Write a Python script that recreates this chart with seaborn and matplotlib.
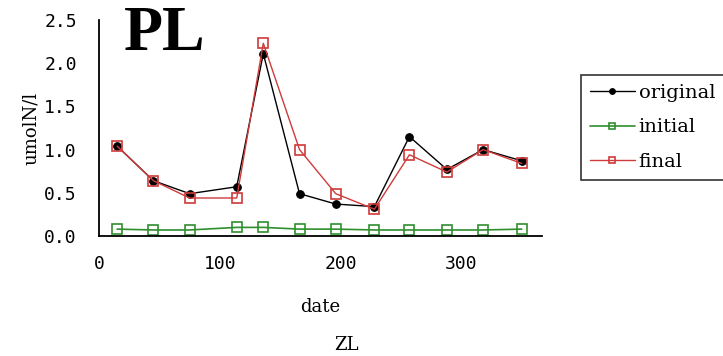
import numpy as np
import pandas as pd
import seaborn as sns
import matplotlib.pyplot as plt

# data
dates = [15, 45, 75, 114, 136, 166, 196, 228, 257, 288, 318, 350]
original = [1.04, 0.64, 0.49, 0.57, 2.11, 0.49, 0.37, 0.34, 1.15, 0.77, 1.00, 0.87]
initial = [0.08, 0.07, 0.07, 0.10, 0.10, 0.08, 0.08, 0.07, 0.07, 0.07, 0.07, 0.08]
final = [1.04, 0.64, 0.44, 0.44, 2.23, 1.00, 0.49, 0.31, 0.94, 0.74, 1.00, 0.84]

df = pd.DataFrame({"date": dates, "original": original, "initial": initial, "final": final})

sns.set_style("white")
plt.rcParams['font.family'] = ['DejaVu Serif']
plt.rcParams['text.color'] = "black"
plt.rcParams['axes.labelcolor'] = "black"

fig = plt.figure(figsize=(7.23, 3.56), dpi=100)
ax = fig.add_axes([0.137, 0.337, 0.613, 0.607])

sns.lineplot(data=df, x="date", y="original", ax=ax, color="black", lw=1,
             marker="o", markersize=5.5, markeredgecolor="black", label="original")
sns.lineplot(data=df, x="date", y="initial", ax=ax, color="#2f8f2f", lw=1.2,
             marker="s", markersize=6.5, markerfacecolor="none", markeredgecolor="#2f8f2f",
             markeredgewidth=1.2, label="initial")
sns.lineplot(data=df, x="date", y="final", ax=ax, color="#d03a3a", lw=1,
             marker="s", markersize=6.5, markerfacecolor="none", markeredgecolor="#d03a3a",
             markeredgewidth=1.2, label="final")

ax.set_xlim(0, 367)
ax.set_ylim(0, 2.5)
ax.set_xticks([0, 100, 200, 300])
ax.set_yticks([0.0, 0.5, 1.0, 1.5, 2.0, 2.5])
ax.set_yticklabels(["0.0", "0.5", "1.0", "1.5", "2.0", "2.5"])
ax.tick_params(axis="x", direction="in", length=5, width=1, labelsize=13, pad=14, colors="black")
ax.tick_params(axis="y", direction="out", length=5, width=1, labelsize=13, pad=11, colors="black")
for lab in ax.get_xticklabels() + ax.get_yticklabels():
    lab.set_family("DejaVu Sans Mono")
for s in ["top", "right"]:
    ax.spines[s].set_visible(False)
for s in ["left", "bottom"]:
    ax.spines[s].set_color("black")
    ax.spines[s].set_linewidth(1.3)

ax.set_xlabel("date", fontsize=13, labelpad=18)
ax.set_ylabel("umolN/l", fontsize=13, labelpad=3)

ax.legend(loc="upper left", bbox_to_anchor=(0.804, 0.789), bbox_transform=fig.transFigure,
          fontsize=14, frameon=True, fancybox=False, edgecolor="black", handlelength=2.3,
          handletextpad=0.2, labelspacing=0.85, borderpad=0.45, borderaxespad=0,
          markerscale=0.75)
ax.get_legend().get_frame().set_linewidth(1.2)

fig.text(0.172, 0.86, "PL", fontsize=46, fontweight="bold", family="Liberation Serif",
         color="black")
fig.text(0.462, 0.018, "ZL", fontsize=13)

fig.savefig("out.png", dpi=100)
